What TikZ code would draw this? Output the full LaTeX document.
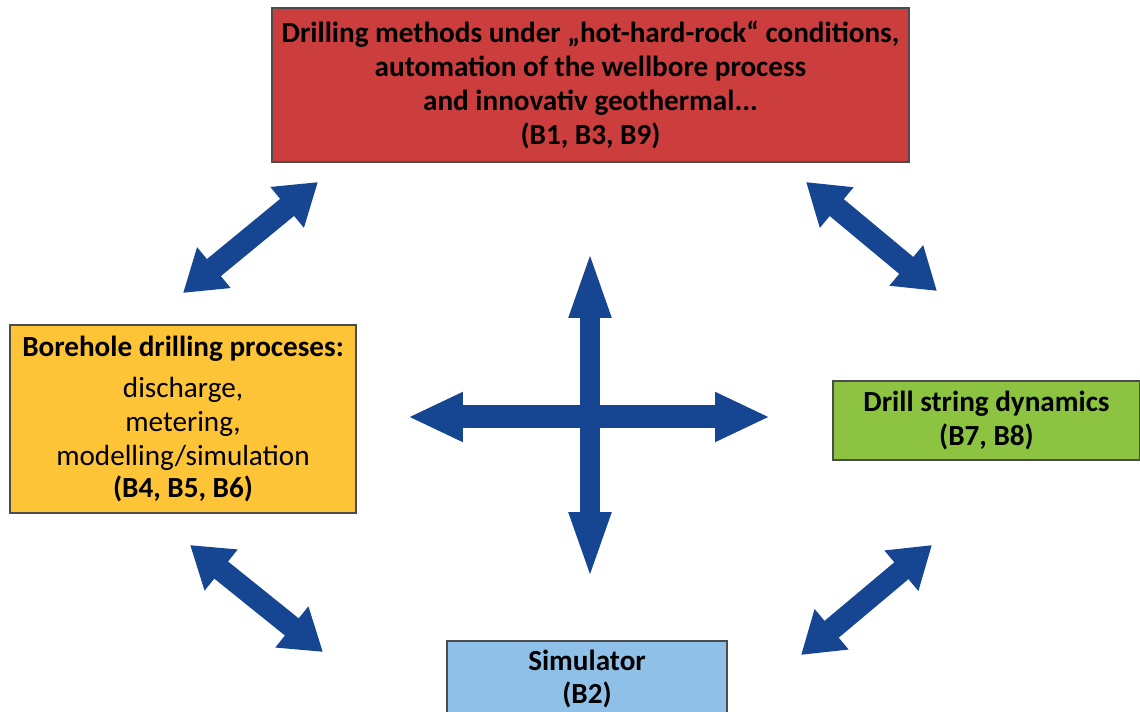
\documentclass[tikz,border=0pt]{standalone}
\usepackage{fontspec}
\setmainfont{Carlito}
\usetikzlibrary{arrows.meta}
\definecolor{boxred}{RGB}{204,62,62}
\definecolor{boxyellow}{RGB}{253,196,56}
\definecolor{boxgreen}{RGB}{140,196,66}
\definecolor{boxblue}{RGB}{142,192,232}
\definecolor{arrowblue}{RGB}{22,70,145}
\tikzset{
  box/.style={draw=black!70, line width=0.6pt, rectangle, inner sep=0pt, align=center, font=\fontsize{16.6}{19.2}\selectfont},
  dbl/.style={arrowblue, line width=0.44cm, {Triangle[width=1.0cm,length=0.8cm]}-{Triangle[width=1.0cm,length=0.8cm]}},
  crossh/.style={arrowblue, line width=0.46cm, {Triangle[width=0.92cm,length=1.1cm]}-{Triangle[width=0.92cm,length=1.1cm]}},
  crossv/.style={arrowblue, line width=0.4cm, {Triangle[width=0.74cm,length=1.4cm]}-{Triangle[width=0.74cm,length=1.4cm]}}
}
\begin{document}
\begin{tikzpicture}[x=0.02cm,y=-0.02cm]
\useasboundingbox (0,0) rectangle (1140,712);
\node[box, fill=boxred, minimum width=637*0.02cm, minimum height=154*0.02cm] (top) at (590.5,85)
  {\textbf{Drilling methods under „hot-hard-rock“ conditions,}\\\textbf{automation of the wellbore process}\\\textbf{and innovativ geothermal...}\\\textbf{(B1, B3, B9)}};
\node[box, fill=boxyellow, minimum width=346*0.02cm, minimum height=188*0.02cm] (left) at (183,419)
  {\textbf{Borehole drilling proceses:}\\[4pt]discharge,\\metering,\\modelling/simulation\\[-1pt]\textbf{(B4, B5, B6)}};
\node[box, fill=boxgreen, minimum width=307*0.02cm, minimum height=79*0.02cm] (right) at (986.5,420.5)
  {\textbf{Drill string dynamics}\\\textbf{(B7, B8)}};
\node[box, fill=boxblue, minimum width=280*0.02cm, minimum height=76*0.02cm] (bottom) at (587,679)
  {\textbf{Simulator}\\\textbf{(B2)}};
% diagonal arrows
\coordinate (a1) at (183,293); \coordinate (a2) at (318,182);
\coordinate (b1) at (806,182); \coordinate (b2) at (937,291);
\coordinate (c1) at (190,545); \coordinate (c2) at (323,652);
\coordinate (d1) at (932,545); \coordinate (d2) at (801,655);
\draw[dbl] (a1) -- (a2);
\draw[dbl] (b1) -- (b2);
\draw[dbl] (c1) -- (c2);
\draw[dbl] (d1) -- (d2);
% cross
\coordinate (h1) at (408,417); \coordinate (h2) at (770,417);
\coordinate (v1) at (590,248); \coordinate (v2) at (590,582);
\draw[crossh] (h1) -- (h2);
\draw[crossv] (v1) -- (v2);
\end{tikzpicture}
\end{document}
